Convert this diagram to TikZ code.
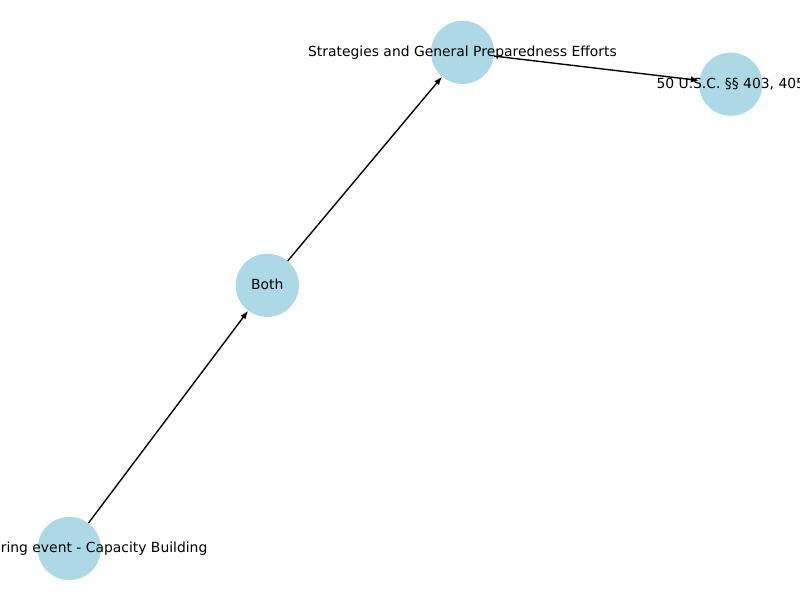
\documentclass[tikz,border=0pt]{standalone}
\usepackage{fontspec}
\setmainfont{DejaVu Sans}
\usetikzlibrary{arrows.meta}
\definecolor{lightblue}{HTML}{ADD8E6}
\begin{document}
\begin{tikzpicture}[x=0.72pt,y=-0.72pt,
  vertex/.style={circle,fill=lightblue,draw=none,minimum size=45.5pt,inner sep=0pt},
  lbl/.style={font=\fontsize{10pt}{12pt}\selectfont,inner sep=0pt,anchor=base,yshift=-3.2pt},
  edge/.style={-{Latex[length=6pt,width=4.5pt]},line width=1pt,black}]
\useasboundingbox (0,0) rectangle (800,600);
\fill[white] (0,0) rectangle (800,600);
\node[vertex] (a) at (69.3,548.5) {};
\node[vertex] (b) at (267.3,285.3) {};
\node[vertex] (c) at (462.5,52.3) {};
\node[vertex] (d) at (730.8,84.2) {};
\draw[edge] (a) -- (b);
\draw[edge] (b) -- (c);
\draw[edge] (c) -- (d);
\node[lbl] (la) at (a.center) {Before/During event - Capacity Building};
\node[lbl] (lb) at (b.center) {Both};
\node[lbl] (lc) at (c.center) {Strategies and General Preparedness Efforts};
\node[lbl] (ld) at (d.center) {50 U.S.C. §§ 403, 405};
\end{tikzpicture}
\end{document}
